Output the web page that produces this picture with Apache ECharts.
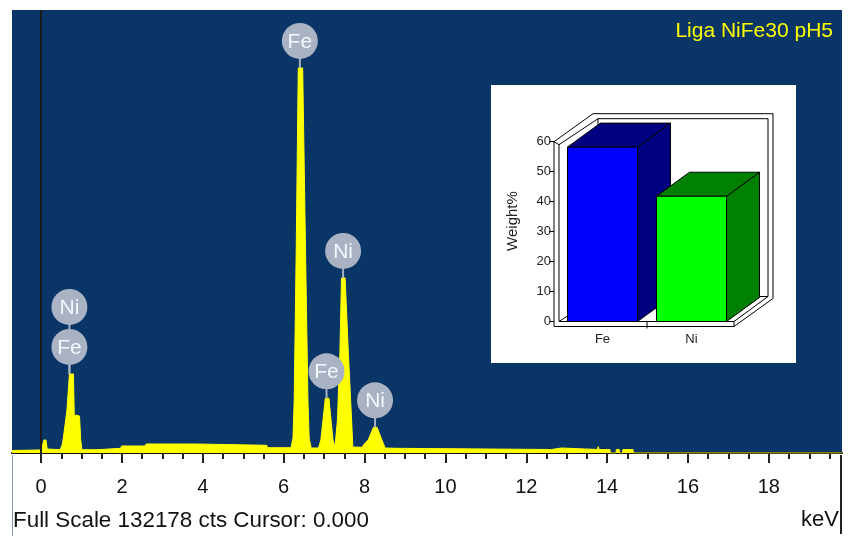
<!DOCTYPE html>
<html>
<head>
<meta charset="utf-8">
<title>Liga NiFe30 pH5</title>
<script src="https://cdn.jsdelivr.net/npm/echarts@6/dist/echarts.min.js"></script>
<style>
  html, body { margin: 0; padding: 0; background: #ffffff; }
  #chart { width: 848px; height: 536px; }
</style>
</head>
<body>
<div id="chart"></div>
<script>
// EDS spectrum outline: energy (keV) and counts
const spectrumKeV = [
  -0.72, -0.05, 0.01, 0.07, 0.12, 0.15, 0.47, 0.52, 0.55, 0.64, 0.70, 0.80, 0.82, 0.95, 0.98, 1.01,
  1.41, 1.43, 1.97, 1.99, 2.57, 2.60, 3.82, 3.83, 3.86, 5.58, 5.60,
  6.18, 6.23, 6.26, 6.31, 6.36, 6.47, 6.54, 6.60, 6.63, 6.68,
  6.86, 6.92, 7.03, 7.12, 7.22, 7.27,
  7.31, 7.33, 7.39, 7.43, 7.52, 7.60, 7.68, 7.71,
  7.94, 7.99, 8.09, 8.22, 8.31, 8.43, 8.51,
  8.75, 8.77, 12.63, 12.64, 12.87, 12.88, 13.76, 13.78, 13.80, 14.07, 14.08, 14.22,
  14.23, 14.30, 14.31, 14.38, 14.39, 14.64, 14.65, 19.80
];
const spectrumCounts = [
  746, 895, 1194, 3879, 3879, 1194, 985, 2387, 4476, 12831, 23574, 23574, 11339, 11041, 3879, 985,
  985, 1402, 1402, 2089, 2089, 2686, 2686, 3074, 2298, 2298, 1582,
  1582, 4476, 15815, 60575, 114884, 114884, 60575, 15815, 4476, 1492,
  1492, 3879, 16323, 16323, 3879, 1940,
  2387, 9847, 29750, 52220, 52220, 29750, 9847, 1790,
  1701, 2686, 3879, 7669, 7669, 3879, 1492,
  1402, 1044, 1044, 1492, 1492, 1044, 1044, 1940, 1044, 1044, 0, 0,
  1044, 1044, 0, 0, 1044, 1044, 0, 0
];
const fullScale = 132178;
const cursorKeV = 0.000;

// energy axis ticks
const xTickValues = [0, 2, 4, 6, 8, 10, 12, 14, 16, 18];
const xMinorTickValues = [0.5, 1, 1.5, 2.5, 3, 3.5, 4.5, 5, 5.5, 6.5, 7, 7.5, 8.5, 9, 9.5,
  10.5, 11, 11.5, 12.5, 13, 13.5, 14.5, 15, 15.5, 16.5, 17, 17.5, 18.5, 19, 19.5];

// element line markers: element, line energy, peak height, stacking level
const peakElements = ['Fe', 'Ni', 'Fe', 'Fe', 'Ni', 'Ni'];
const peakKeV = [0.70, 0.70, 6.40, 7.06, 7.47, 8.26];
const peakCounts = [23574, 23574, 114884, 16323, 52220, 7669];
const peakLevel = [0, 1, 0, 0, 0, 0];

// quantification inset
const compElements = ['Fe', 'Ni'];
const compWeight = [58.2, 41.8];
const compFront = ['#0000ff', '#00ff00'];
const compShade = ['#000080', '#008000'];

const FONT = '"Liberation Sans", Arial, sans-serif';
const chart = echarts.init(document.getElementById('chart'), null, { renderer: 'canvas' });

const spectrumData = spectrumKeV.map((k, i) => [k, spectrumCounts[i]]);
const markerData = peakKeV.map((k, i) => [k, peakCounts[i], peakLevel[i]]);
const compData = compWeight.map((w, i) => [i, w]);

const markerGray = '#a9b3c3';

function renderMarker(params, api) {
  const p = api.coord([api.value(0), api.value(1)]);
  const lvl = api.value(2);
  const cy = p[1] - 27 - lvl * 40;
  return {
    type: 'group',
    children: [
      { type: 'line', z2: 0, shape: { x1: p[0], y1: p[1], x2: p[0], y2: cy },
        style: { stroke: markerGray, lineWidth: 2 } },
      { type: 'circle', z2: 10, shape: { cx: p[0], cy: cy, r: 18 },
        style: { fill: markerGray } },
      { type: 'text', z2: 20, x: p[0], y: cy + 1,
        style: { text: peakElements[params.dataIndex], fill: '#f4f7fb',
                 font: '21px ' + FONT, align: 'center', verticalAlign: 'middle' } }
    ]
  };
}

function renderFrame(params, api) {
  const cs = params.coordSys;
  const L = cs.x - 4, Li = L + 5;
  const R = cs.x + cs.width - 2;
  const Y0 = cs.y + cs.height, Yb = Y0 + 5, Yt = cs.y;
  const dx = 39, dy = -28;
  const ln = { stroke: '#000', lineWidth: 1, fill: null };
  return {
    type: 'group',
    children: [
      { type: 'polygon', shape: { points: [[L, Yt], [L + dx, Yt + dy], [R + dx, Yt + dy], [R + dx, Yb + dy], [R, Yb], [L, Yb]] },
        style: { fill: '#ffffff', stroke: '#000', lineWidth: 1 } },
      { type: 'polyline', shape: { points: [[Li, Y0], [Li, Yt + 3], [L + dx + 5, Yt + dy + 5], [R + dx - 5, Yt + dy + 5], [R + dx - 5, Y0 - 25], [R, Y0], [Li, Y0]] }, style: ln },
      { type: 'line', shape: { x1: L + dx + 5, y1: Yt + dy + 5, x2: L + dx + 5, y2: Y0 - 25 }, style: ln },
      { type: 'polyline', shape: { points: [[Li, Y0], [L + dx + 5, Y0 - 25], [R + dx - 5, Y0 - 25]] }, style: ln },
      { type: 'line', shape: { x1: R, y1: Y0, x2: R, y2: Yb }, style: ln },
      { type: 'line', shape: { x1: L, y1: Yt, x2: Li, y2: Yt + 3 }, style: ln },
      { type: 'line', shape: { x1: cs.x + cs.width / 2, y1: Y0, x2: cs.x + cs.width / 2, y2: Yb + 2 }, style: ln }
    ]
  };
}

function renderBar(params, api) {
  const idx = api.value(0);
  const top = api.coord([idx, api.value(1)]);
  const base = api.coord([idx, 0]);
  const bw = api.size([1, 0])[0] * 0.787;
  const x0 = top[0] - bw / 2, x1 = top[0] + bw / 2;
  const y0 = top[1], y1 = base[1];
  const dx = 33, dy = -24;
  const edge = { stroke: '#000', lineWidth: 1 };
  return {
    type: 'group',
    children: [
      { type: 'polygon', shape: { points: [[x1, y0], [x1 + dx, y0 + dy], [x1 + dx, y1 + dy], [x1, y1]] },
        style: Object.assign({ fill: compShade[idx] }, edge) },
      { type: 'polygon', shape: { points: [[x0, y0], [x0 + dx, y0 + dy], [x1 + dx, y0 + dy], [x1, y0]] },
        style: Object.assign({ fill: compShade[idx] }, edge) },
      { type: 'rect', shape: { x: x0, y: y0, width: bw, height: y1 - y0 },
        style: Object.assign({ fill: compFront[idx] }, edge) }
    ]
  };
}

const option = {
  animation: false,
  title: {
    text: 'Liga NiFe30 pH5',
    right: 15, top: 21, padding: 0,
    textStyle: { color: '#ffff00', fontSize: 21, fontWeight: 'normal', fontFamily: FONT }
  },
  grid: [
    { left: 12, right: 6, top: 10, bottom: 83, show: true, backgroundColor: '#093567', borderWidth: 0 },
    { left: 558, top: 141.7, width: 178, height: 179.8 }
  ],
  xAxis: [
    {
      type: 'value', gridIndex: 0, min: -0.72, max: 19.81, position: 'bottom',
      axisLine: { show: true, onZero: false, lineStyle: { color: '#111', width: 2 } },
      axisTick: { show: true, customValues: xTickValues, length: 10, lineStyle: { color: '#222', width: 2 } },
      axisLabel: { show: true, customValues: xTickValues, margin: 24, color: '#111', fontSize: 20, fontFamily: FONT },
      splitLine: { show: false }
    },
    {
      type: 'value', gridIndex: 0, min: -0.72, max: 19.81, position: 'bottom',
      axisLine: { show: false },
      axisTick: { show: true, customValues: xMinorTickValues, length: 6, lineStyle: { color: '#222', width: 2 } },
      axisLabel: { show: false },
      splitLine: { show: false }
    },
    {
      type: 'category', gridIndex: 1, data: compElements, z: 5,
      axisLine: { show: false }, axisTick: { show: false },
      axisLabel: { margin: 11, color: '#222', fontSize: 13, fontFamily: FONT }
    }
  ],
  yAxis: [
    { type: 'value', gridIndex: 0, min: 0, max: fullScale, show: false },
    {
      type: 'value', gridIndex: 1, min: 0, max: 60, interval: 10, offset: 4, z: 5,
      axisLine: { show: false },
      axisTick: { show: true, length: 5, lineStyle: { color: '#000', width: 1 } },
      axisLabel: { margin: 3, color: '#222', fontSize: 13, fontFamily: FONT },
      splitLine: { show: false }
    }
  ],
  graphic: [
    { type: 'rect', z: 1, shape: { x: 491, y: 85, width: 305, height: 278 }, style: { fill: '#ffffff' } },
    { type: 'text', z: 6, x: 513, y: 221, rotation: Math.PI / 2,
      style: { text: 'Weight%', fill: '#222', font: '15px ' + FONT, align: 'center', verticalAlign: 'middle' } },
    { type: 'line', z: 1, shape: { x1: 12.5, y1: 455, x2: 12.5, y2: 536 }, style: { stroke: '#8a9ab0', lineWidth: 1 } },
    { type: 'line', z: 1, shape: { x1: 841, y1: 455, x2: 841, y2: 534 }, style: { stroke: '#222', lineWidth: 2 } },
    { type: 'text', z: 1, x: 13, y: 521,
      style: { text: 'Full Scale ' + fullScale + ' cts Cursor: ' + cursorKeV.toFixed(3), fill: '#111',
               font: '22.4px ' + FONT, align: 'left', verticalAlign: 'middle' } },
    { type: 'text', z: 1, x: 839, y: 520,
      style: { text: 'keV', fill: '#111', font: '22px ' + FONT, align: 'right', verticalAlign: 'middle' } }
  ],
  series: [
    {
      type: 'line', xAxisIndex: 0, yAxisIndex: 0, data: spectrumData,
      symbol: 'none', z: 2,
      lineStyle: { color: '#ffff00', width: 1 },
      areaStyle: { color: '#ffff00', opacity: 1 },
      markLine: {
        silent: true, symbol: ['none', 'none'], label: { show: false },
        lineStyle: { color: '#1b1b1b', width: 2, type: 'solid' },
        data: [{ xAxis: cursorKeV }]
      }
    },
    {
      type: 'custom', xAxisIndex: 0, yAxisIndex: 0, z: 4,
      data: markerData, renderItem: renderMarker, silent: true
    },
    {
      type: 'custom', xAxisIndex: 2, yAxisIndex: 1, z: 3,
      data: [[0, 0]], renderItem: renderFrame, silent: true
    },
    {
      type: 'custom', xAxisIndex: 2, yAxisIndex: 1, z: 4,
      data: compData, renderItem: renderBar, silent: true
    }
  ]
};

chart.setOption(option);
</script>
</body>
</html>
